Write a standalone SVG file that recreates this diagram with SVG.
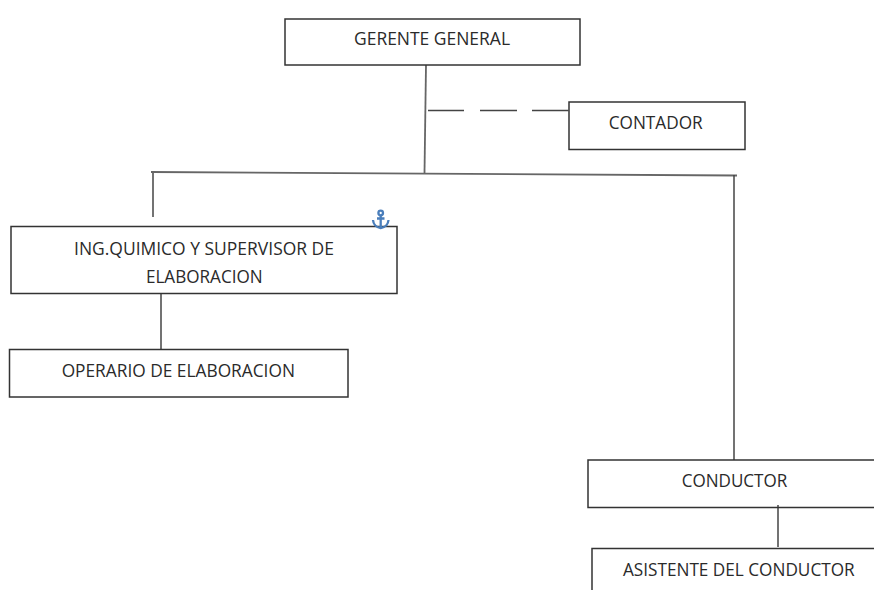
<svg xmlns="http://www.w3.org/2000/svg" width="874" height="590" viewBox="0 0 874 590">
<style>
.box{fill:#fff;stroke:#333;stroke-width:1.5}
.open{fill:none;stroke:#333;stroke-width:1.5}
.line{fill:none;stroke:#444;stroke-width:1.5}
.trunk{fill:none;stroke:#666;stroke-width:1.8}
text{font-family:"Open Sans","Noto Sans","Liberation Sans",sans-serif;font-size:17.4px;fill:#2a2a2a;text-anchor:middle}
</style>
<rect width="874" height="590" fill="#fff"/>
<g id="connectors">
<path class="trunk" d="M426 65L424.500 173"/>
<path class="line" d="M428 110.500H464M480 110.500H517M532 110.500H568.500"/>
<path class="trunk" d="M151 172L737 175.500"/>
<path class="line" d="M153 173V217"/>
<path class="line" d="M734 175V460"/>
<path class="line" d="M161 293V349"/>
<path class="line" d="M778 505V547"/>
</g>
<g id="gerente"><rect class="box" x="285" y="19" width="295" height="46"/><text x="432" y="44.500" textLength="156" lengthAdjust="spacingAndGlyphs">GERENTE GENERAL</text></g>
<g id="contador"><rect class="box" x="569" y="102" width="176" height="47.500"/><text x="655.700" y="129.300" textLength="94" lengthAdjust="spacingAndGlyphs">CONTADOR</text></g>
<g id="ing"><rect class="box" x="11" y="226.500" width="386" height="67"/><text x="204" y="255" textLength="260" lengthAdjust="spacingAndGlyphs">ING.QUIMICO Y SUPERVISOR DE</text><text x="204.300" y="283" textLength="116.700" lengthAdjust="spacingAndGlyphs">ELABORACION</text></g>
<g id="operario"><rect class="box" x="9.500" y="349.500" width="338.500" height="47.500"/><text x="178.300" y="377.300" textLength="233.300" lengthAdjust="spacingAndGlyphs">OPERARIO DE ELABORACION</text></g>
<g id="conductor"><path class="open" d="M875 460H588V507.500H875"/><text x="734.500" y="486.700" textLength="105.600" lengthAdjust="spacingAndGlyphs">CONDUCTOR</text></g>
<g id="asistente"><path class="open" d="M592 591V548.500H875"/><text x="738.800" y="576.300" textLength="231.700" lengthAdjust="spacingAndGlyphs">ASISTENTE DEL CONDUCTOR</text></g>
<g id="anchor" fill="none" stroke="#4a7ebb" stroke-width="2.300"><circle cx="380.700" cy="213" r="2.300"/><path d="M380.700 215.500V228M377 218.500H384.500M373 220C373.500 225.500 377.500 227.500 380.700 228C384 227.500 388 225.500 388.500 220"/></g>
</svg>
